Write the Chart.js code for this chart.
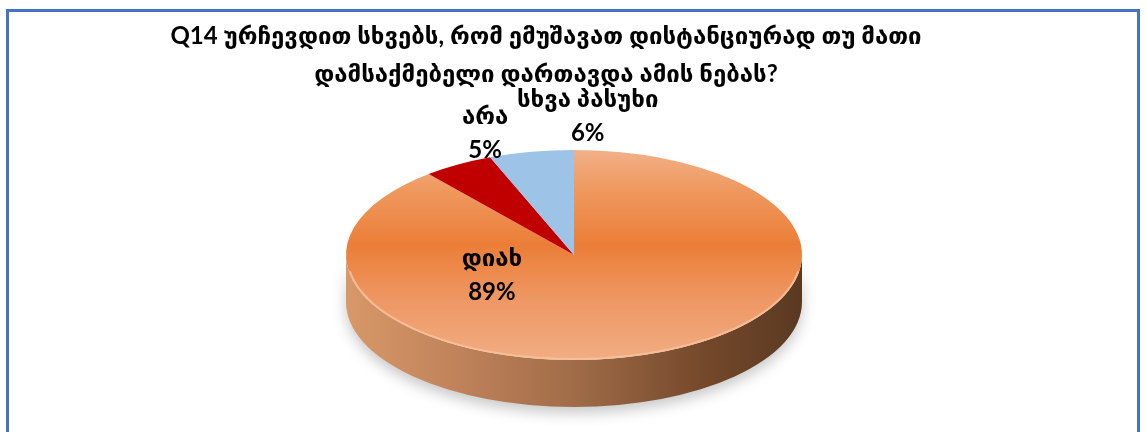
<!DOCTYPE html>
<html>
<head>
<meta charset="utf-8">
<script src="https://cdn.jsdelivr.net/npm/chart.js@4.4.1/dist/chart.umd.min.js"></script>
<style>
  html, body { margin: 0; padding: 0; overflow: hidden; background: #fff; }
  #frame {
    position: absolute; left: 6px; top: 9px; width: 1134px; height: 500px;
    border: 3px solid #4472c4; box-sizing: border-box;
  }
  #wrap { position: absolute; left: 0; top: 0; width: 1146px; height: 432px; }
</style>
</head>
<body>
<div id="frame"></div>
<div id="wrap"><canvas id="grafikQ14" width="1146" height="432"></canvas></div>
<script>
// ----------- Q14 პასუხები -----------
const kategoriebi = ["დიახ", "არა", "სხვა პასუხი"];
const mnishvnelobebi = [89, 5, 6];
const feradi = ["#eb7e37", "#c00000", "#9dc3e6"];

const satauri = [
  "Q14 ურჩევდით სხვებს, რომ ემუშავათ დისტანციურად თუ მათი",
  "დამსაქმებელი დართავდა ამის ნებას?"
];

// ellipse of the tilted pie on screen, and its side thickness
const torti = { cx: 574, cy: 255, rx: 228, ry: 105, depth: 47 };
// label anchor for each slice, in units of the ellipse radii
const etiketisAdgili = [[-0.36, 0.19], [-0.39, -1.16], [0.06, -1.32]];

const shrifti = 'Lato, "DejaVu Sans", sans-serif';

function zedapiriGradient(chart) {
  const a = chart.chartArea;
  if (!a) return feradi[0];
  const cy = (a.top + a.bottom) / 2;
  const r = Math.min(a.right - a.left, a.bottom - a.top) / 2;
  const g = chart.ctx.createLinearGradient(0, cy - r, 0, cy + r);
  g.addColorStop(0, "#f2b088");
  g.addColorStop(0.18, "#ef9a61");
  g.addColorStop(0.45, "#eb7e37");
  g.addColorStop(0.72, "#ee9865");
  g.addColorStop(1, "#f1ad82");
  return g;
}

const tortis3D = {
  id: "tortis3D",
  beforeDatasetsDraw(chart) {
    const ctx = chart.ctx;
    const { cx, cy, rx, ry, depth } = torti;
    // side wall of the pie
    ctx.save();
    ctx.shadowColor = "rgba(0,0,0,0.22)";
    ctx.shadowBlur = 14;
    ctx.shadowOffsetY = 6;
    ctx.beginPath();
    ctx.ellipse(cx, cy, rx, ry, 0, 0, Math.PI, false);
    ctx.ellipse(cx, cy + depth, rx, ry, 0, Math.PI, 0, true);
    ctx.closePath();
    const g = ctx.createLinearGradient(cx - rx, 0, cx + rx, 0);
    g.addColorStop(0, "#d89868");
    g.addColorStop(0.25, "#bf825a");
    g.addColorStop(0.5, "#a06c48");
    g.addColorStop(0.78, "#75492b");
    g.addColorStop(1, "#5a3921");
    ctx.fillStyle = g;
    ctx.fill();
    ctx.restore();

    // squash the flat pie into the ellipse
    const arc = chart.getDatasetMeta(0).data[0];
    ctx.save();
    ctx.translate(cx, cy);
    ctx.scale(rx / arc.outerRadius, ry / arc.outerRadius);
    ctx.translate(-arc.x, -arc.y);
  },
  afterDatasetsDraw(chart) {
    const ctx = chart.ctx;
    ctx.restore();
    const { cx, cy, rx, ry } = torti;

    // light rim along the front edge
    ctx.save();
    ctx.beginPath();
    ctx.ellipse(cx, cy, rx - 1, ry - 1, 0, 0.05 * Math.PI, 0.95 * Math.PI, false);
    ctx.strokeStyle = "rgba(248,196,160,0.8)";
    ctx.lineWidth = 2;
    ctx.stroke();
    ctx.restore();

    // data labels
    const jami = mnishvnelobebi.reduce((s, v) => s + v, 0);
    ctx.save();
    ctx.fillStyle = "#000";
    ctx.textAlign = "center";
    ctx.textBaseline = "middle";
    ctx.font = "bold 24px " + shrifti;
    mnishvnelobebi.forEach((v, i) => {
      const x = cx + etiketisAdgili[i][0] * rx;
      const y = cy + etiketisAdgili[i][1] * ry;
      ctx.fillText(kategoriebi[i], x, y - 17);
      ctx.fillText(Math.round(v / jami * 100) + "%", x, y + 17);
    });
    ctx.restore();
  }
};

new Chart(document.getElementById("grafikQ14"), {
  type: "pie",
  data: {
    labels: kategoriebi,
    datasets: [{
      data: mnishvnelobebi,
      backgroundColor: (c) => c.dataIndex === 0 ? zedapiriGradient(c.chart) : feradi[c.dataIndex],
      borderWidth: 0
    }]
  },
  options: {
    responsive: false,
    animation: false,
    events: [],
    layout: { padding: { left: 0, right: 54, top: 0, bottom: 20 } },
    plugins: {
      legend: { display: false },
      tooltip: { enabled: false },
      title: {
        display: true,
        text: satauri,
        color: "#000",
        font: { family: shrifti, size: 24, weight: "bold", lineHeight: 1.55 },
        padding: { top: 18, bottom: 10 }
      }
    }
  },
  plugins: [tortis3D]
});
</script>
</body>
</html>
